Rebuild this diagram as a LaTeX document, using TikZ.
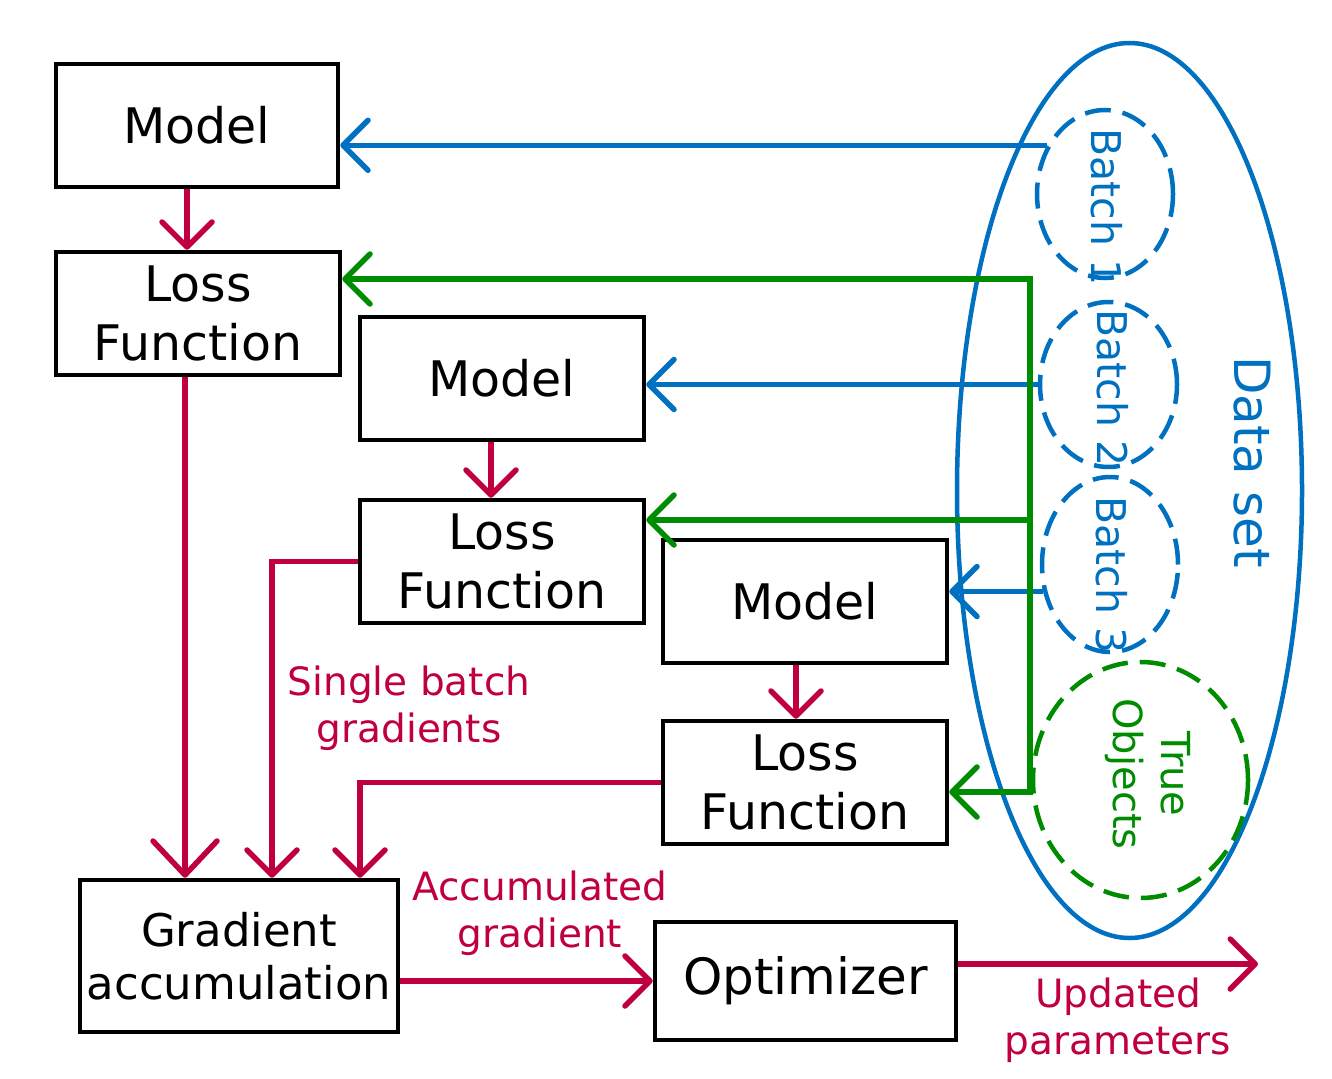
\documentclass[tikz,border=0pt]{standalone}
\usepackage{fontspec}
\setmainfont{DejaVu Sans}
\usetikzlibrary{arrows.meta,shapes.geometric}
\definecolor{cred}{RGB}{192,0,62}
\definecolor{cblue}{RGB}{0,112,192}
\definecolor{cgreen}{RGB}{0,140,0}
\begin{document}
\begin{tikzpicture}[x=1pt,y=-1pt,
  box/.style={draw=black,line width=4.5pt,inner sep=0pt,minimum width=284pt,minimum height=123pt,align=center,font=\fontsize{49}{59}\selectfont},
  arr/.style={-{Straight Barb[length=25pt,width=50pt,round]}},
  bigarr/.style={-{Straight Barb[length=34pt,width=64pt,round]}},
  rline/.style={draw=cred,line width=5.5pt},
  bline/.style={draw=cblue,line width=5.5pt},
  gline/.style={draw=cgreen,line width=5.5pt},
  rlabel/.style={text=cred,align=center,inner sep=0pt,font=\fontsize{39}{47}\selectfont},
  batch/.style={ellipse,draw=cblue,line width=4.5pt,dash pattern=on 26pt off 12pt,inner sep=0pt},
  btext/.style={rotate=-90,text=cblue,inner sep=0pt,font=\fontsize{41}{48}\selectfont}
]
\useasboundingbox (0,0) rectangle (1332,1078);
\fill[white] (0,0) rectangle (1332,1078);

% data set
\node[ellipse,draw=cblue,line width=4.5pt,inner sep=0pt,minimum width=345pt,minimum height=895pt] (ds) at (1129.5,490.5) {};
\node[rotate=-90,text=cblue,inner sep=0pt,font=\fontsize{50}{60}\selectfont] (dsl) at (1252,462) {Data set};
\node[batch,minimum width=136pt,minimum height=168pt] (b1) at (1105,194) {};
\node[batch,minimum width=137pt,minimum height=165pt] (b2) at (1108.5,384.5) {};
\node[batch,minimum width=136pt,minimum height=175pt] (b3) at (1110,564.5) {};
\node[ellipse,draw=cgreen,line width=4.5pt,dash pattern=on 26pt off 12pt,inner sep=0pt,minimum width=215pt,minimum height=236pt] (to) at (1140.5,780) {};
\node[btext] (b1t) at (1107,207) {Batch 1};
\node[btext] (b2t) at (1113,388) {Batch 2};
\node[btext] (b3t) at (1112,575) {Batch 3};
\node[rotate=-90,text=cgreen,align=center,inner sep=0pt,font=\fontsize{40}{48}\selectfont] (tot) at (1148,774) {True\\Objects};

% boxes
\node[box,minimum width=282pt] (m1) at (197,125.5) {Model};
\node[box] (l1) at (198,313.5) {Loss\\Function};
\node[box] (m2) at (502,378.5) {Model};
\node[box] (l2) at (502,561.5) {Loss\\Function};
\node[box] (m3) at (805,601.5) {Model};
\node[box] (l3) at (805,782.5) {Loss\\Function};
\node[box,minimum width=318pt,minimum height=152pt,font=\fontsize{45}{53}\selectfont] (g) at (239,956) {Gradient\\accumulation};
\node[box,minimum width=301pt,minimum height=118pt,font=\fontsize{50}{60}\selectfont] (o) at (805.5,981) {Optimizer};

% labels
\node[rlabel] (sbg) at (409,708) {Single batch\\gradients};
\node[rlabel] (acc) at (540,913) {Accumulated\\gradient};
\node[rlabel] (upd) at (1118,1020) {Updated\\parameters};

% blue connectors
\draw[bline,arr] (b1.140) -- (b1.140 -| m1.east);
\draw[bline,arr] (b2.west) -- (b2.west -| m2.east);
\draw[bline,arr] (b3.202) -- (b3.202 -| m3.east);

% green connectors
\coordinate (gtop) at (1030,279);
\coordinate (gmid) at (1030,520);
\coordinate (gbot) at (1030,792);
\draw[gline,arr] (gbot) -- (gtop) -- (gtop -| l1.east);
\draw[gline,arr] (gmid) -- (gmid -| l2.east);
\draw[gline,arr] (gtop) -- (gbot) -- (gbot -| l3.east);

% red connectors
\draw[rline,arr] ([xshift=-10pt]m1.south) -- ([xshift=-10pt]m1.south |- l1.north);
\draw[rline,arr] ([xshift=-11pt]m2.south) -- ([xshift=-11pt]m2.south |- l2.north);
\draw[rline,arr] ([xshift=-9pt]m3.south) -- ([xshift=-9pt]m3.south |- l3.north);
\draw[rline,bigarr] ([xshift=-13pt]l1.south) -- ([xshift=-13pt]l1.south |- g.north);
\draw[rline,arr] (l2.west) -| ([xshift=33pt]g.north);
\draw[rline,arr] (l3.west) -| ([xshift=121pt]g.north);
\draw[rline,arr] (g.east |- o.west) -- (o.west);
\coordinate (out) at (1258,964);
\draw[rline,arr] (o.east |- out) -- (out);
\end{tikzpicture}
\end{document}
